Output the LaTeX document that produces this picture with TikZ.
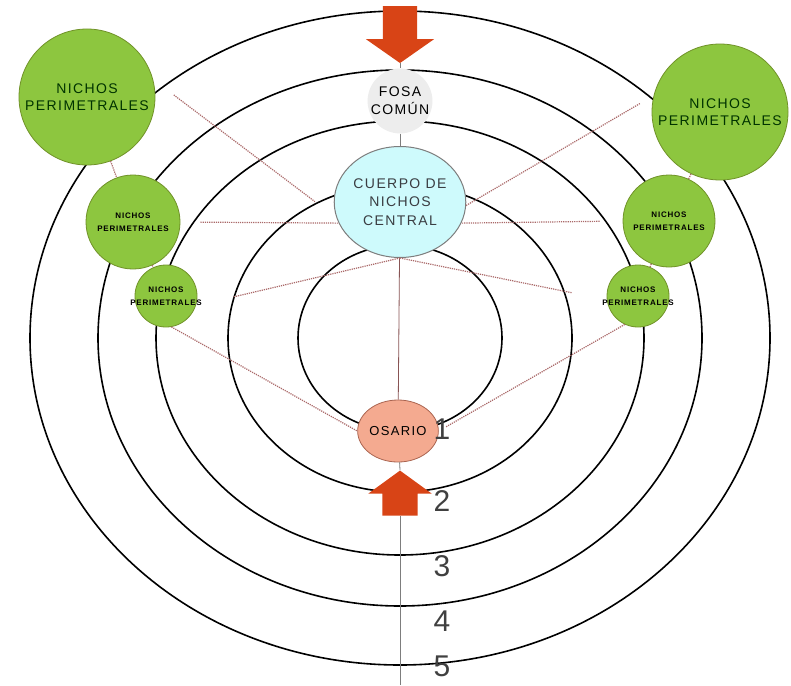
\documentclass[tikz,border=0pt]{standalone}
\usepackage{fontspec}
\setmainfont{Liberation Sans}
\newfontfamily\spaced[LetterSpace=10]{Liberation Sans}
\usepackage{tikz}
\usetikzlibrary{shapes.geometric}
\usetikzlibrary{shapes.arrows}

\definecolor{nichogreen}{RGB}{141,198,63}
\definecolor{nichoedge}{RGB}{112,146,40}
\definecolor{cuerpofill}{RGB}{206,250,252}
\definecolor{osariofill}{RGB}{244,170,144}
\definecolor{osarioedge}{RGB}{170,100,80}
\definecolor{flechared}{RGB}{216,68,22}
\definecolor{enlacered}{RGB}{170,105,105}
\definecolor{ejegray}{RGB}{125,125,125}

\begin{document}
\begin{tikzpicture}[x=1pt,y=-1pt]
		\tikzset{
			nicho/.style={draw=nichoedge,circle,fill=nichogreen,line width=0.8pt,inner sep=0pt},
			txtgrande/.style={align=center,text=black!80!green,font=\fontsize{14}{17}\spaced},
			txtchico/.style={align=center,text=black,font=\fontsize{8}{12.5}\spaced\bfseries},
			flecha/.style={single arrow,fill=flechared,inner xsep=0pt,single arrow head indent=0pt},
			enlace/.style={draw=enlacered,densely dotted,line width=1.2pt},
			eje/.style={draw=ejegray,line width=0.8pt},
			numero/.style={text=black!75,font=\fontsize{30}{30}\selectfont,inner sep=0pt}
		}
		\fill[white] (0,0) rectangle (791,685);
		\useasboundingbox (0,0) rectangle (791,685);
		\foreach \rx/\ry in {102/93,172/154,244/217,302/268,370/327}
			\draw[line width=1.6pt] (400,338) ellipse [x radius=\rx, y radius=\ry];

		\node (fosa) at (400,101) [circle,fill=black!7,minimum size=56,inner sep=0pt,align=center,font=\fontsize{14}{18}\spaced] {FOSA\\COMÚN};
		\node (cuerpo) at (400,202) [ellipse,draw=ejegray,line width=1pt,fill=cuerpofill,minimum width=130,minimum height=111,inner sep=0pt,align=center,text=black!85!cyan,font=\fontsize{14}{18.5}\spaced] {CUERPO DE\\NICHOS\\CENTRAL};
		\node (osario) at (398,431) [ellipse,draw=osarioedge,line width=0.8pt,fill=osariofill,minimum width=80,minimum height=62,inner sep=0pt,font=\fontsize{13}{15}\spaced] {OSARIO};

		\node (nlL) at (87,97) [nicho,minimum size=136,label={[txtgrande]center:{NICHOS\\PERIMETRALES}}] {};
		\node (nmL) at (133,222) [nicho,minimum size=94,label={[txtchico]center:{NICHOS\\PERIMETRALES}}] {};
		\node (nsL) at (166,296) [nicho,minimum size=62,label={[txtchico]center:{NICHOS\\PERIMETRALES}}] {};
		\node (nlR) at (720,112) [nicho,minimum size=136,label={[txtgrande]center:{NICHOS\\PERIMETRALES}}] {};
		\node (nmR) at (669,221) [nicho,minimum size=92,label={[txtchico]center:{NICHOS\\PERIMETRALES}}] {};
		\node (nsR) at (638,296) [nicho,minimum size=62,label={[txtchico]center:{NICHOS\\PERIMETRALES}}] {};

		\node (arriba) at (400,28.5) [flecha,rotate=-90,minimum height=57,minimum width=68,inner ysep=17pt,single arrow head extend=17pt,single arrow tip angle=110] {};
		\node (abajo) at (400,499.5) [flecha,rotate=90,minimum height=45,minimum width=63,inner ysep=17.5pt,single arrow head extend=14pt,single arrow tip angle=108] {};
		\coordinate (fin) at (400,685);

		\foreach \n/\y in {1/429,2/501,3/566,4/621,5/666}
			\node (num\n) at (442,\y) [numero] {\n};

		\path
		(arriba.tip) edge [eje] (fosa)
		(fosa) edge [eje] (cuerpo)
		(cuerpo) edge [eje, draw=enlacered!80!black] (osario)
		(osario) edge [eje] (abajo.tip)
		(abajo.tail) edge [eje] (fin)
		(nlL.15) edge [enlace, shorten <=26pt, shorten >=27pt] (cuerpo.194)
		(nmL.east) edge [enlace, shorten <=20pt] (cuerpo.199)
		(nsL.-18) edge [enlace, shorten <=39pt] (cuerpo.south)
		(nsL.-80) edge [enlace] (osario.west)
		(nlL) edge [enlace] (nmL)
		(nmL) edge [enlace] (nsL)
		(nlR.166) edge [enlace, shorten <=16pt] (cuerpo.-3)
		(nmR.west) edge [enlace, shorten <=23pt] (cuerpo.-19)
		(nsR.187) edge [enlace, shorten <=36pt] (cuerpo.south)
		(nsR.245) edge [enlace, shorten >=8pt] (osario.east)
		(nlR) edge [enlace] (nmR)
		(nmR) edge [enlace] (nsR);
	\end{tikzpicture}
\end{document}
